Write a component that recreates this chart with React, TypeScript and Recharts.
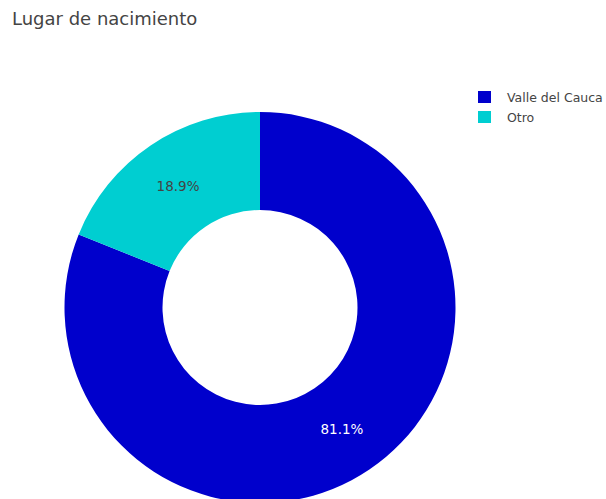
import { PieChart, Pie, Cell } from "recharts";

const categories = ["Valle del Cauca", "Otro"];
const shares = [81.1, 18.9];
const colors = ["#0000CC", "#00CED1"];
const labelColors = ["#ffffff", "#444444"];

const data = categories.map((name, i) => ({ name, value: shares[i] }));

const RADIAN = Math.PI / 180;
const FONT = "'DejaVu Sans', Verdana, sans-serif";

// percent text sits at the middle of the ring, like plotly's inside text
const renderLabel = (props: any) => {
  const { cx, cy, midAngle, innerRadius, outerRadius, percent, index } = props;
  const r = (innerRadius + outerRadius) / 2;
  const x = cx + r * Math.cos(-midAngle * RADIAN);
  const y = cy + r * Math.sin(-midAngle * RADIAN);
  return (
    <text
      x={x}
      y={y}
      fill={labelColors[index]}
      textAnchor="middle"
      dominantBaseline="central"
      style={{ fontFamily: FONT, fontSize: 13.5 }}
    >
      {(percent * 100).toFixed(1)}%
    </text>
  );
};

export default function App() {
  return (
    <div
      style={{
        position: "absolute",
        left: 0,
        top: 0,
        width: 606,
        height: 499,
        background: "#fff",
        overflow: "hidden",
      }}
    >
      <div
        style={{
          position: "absolute",
          left: 12,
          top: 8,
          fontFamily: FONT,
          fontSize: 18,
          color: "#444",
          zIndex: 2,
        }}
      >
        Lugar de nacimiento
      </div>
      <div
        style={{
          position: "absolute",
          left: 478,
          top: 87,
          fontFamily: FONT,
          fontSize: 12.5,
          color: "#444",
          zIndex: 2,
        }}
      >
        {categories.map((name, i) => (
          <div
            key={name}
            style={{ display: "flex", alignItems: "center", height: 20 }}
          >
            <span
              style={{
                display: "inline-block",
                width: 13,
                height: 12,
                background: colors[i],
                marginRight: 16,
              }}
            />
            <span style={{ whiteSpace: "nowrap" }}>{name}</span>
          </div>
        ))}
      </div>
      <PieChart
        width={606}
        height={499}
        margin={{ top: 0, right: 0, bottom: 0, left: 0 }}
      >
        <Pie
          data={data}
          dataKey="value"
          nameKey="name"
          cx={260}
          cy={307.5}
          innerRadius={97.5}
          outerRadius={195.5}
          startAngle={90}
          endAngle={-270}
          stroke="none"
          labelLine={false}
          label={renderLabel}
          isAnimationActive={false}
        >
          {data.map((d, i) => (
            <Cell key={d.name} fill={colors[i]} />
          ))}
        </Pie>
      </PieChart>
    </div>
  );
}
